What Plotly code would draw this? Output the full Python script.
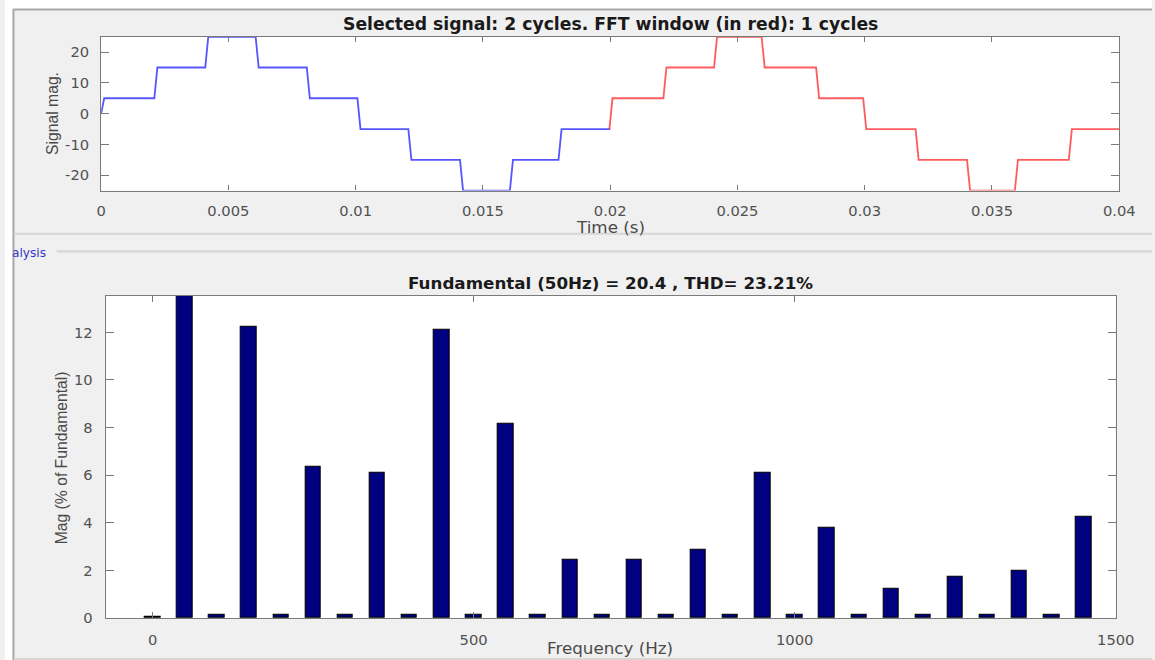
import plotly.graph_objects as go

# reference geometry (all positions below are given in reference pixels)
W, H = 1155, 660
K = 1171 / 1155  # compensation for the viewer's down-scaling of the page
FIG_W, FIG_H = round(W * K), round(H * K)

# ---------------- data ----------------
step_levels = [5, 15, 25, 15, 5, -5, -15, -25, -15, -5]
blue_switch_t = [0.0, 0.00209, 0.00409, 0.00607, 0.00808, 0.01007, 0.01207, 0.0141, 0.01606, 0.01797]
blue_start_level = 0
blue_end_t = 0.02
red_switch_t = [0.01997, 0.02209, 0.02408, 0.02595, 0.02809, 0.02994, 0.032, 0.03402, 0.0359, 0.03802]
red_start_level = -5
red_end_t = 0.04
rise_time = 0.00012

time_ticks = [0, 0.005, 0.01, 0.015, 0.02, 0.025, 0.03, 0.035, 0.04]
time_tick_labels = ["0", "0.005", "0.01", "0.015", "0.02", "0.025", "0.03", "0.035", "0.04"]
sig_ticks = [-20, -10, 0, 10, 20]
sig_tick_labels = ["-20", "-10", "0", "10", "20"]

harmonic_freqs = [0, 50, 100, 150, 200, 250, 300, 350, 400, 450, 500, 550, 600, 650, 700,
                  750, 800, 850, 900, 950, 1000, 1050, 1100, 1150, 1200, 1250, 1300, 1350, 1400, 1450]
harmonic_mags = [0.07, 100.0, 0.15, 12.25, 0.15, 6.36, 0.15, 6.11, 0.15, 12.1, 0.15, 8.17, 0.15, 2.44, 0.15,
                 2.44, 0.15, 2.88, 0.15, 6.12, 0.15, 3.77, 0.15, 1.22, 0.15, 1.75, 0.15, 2.0, 0.15, 4.24]
freq_ticks = [0, 500, 1000, 1500]
freq_tick_labels = ["0", "500", "1000", "1500"]
mag_ticks = [0, 2, 4, 6, 8, 10, 12]
mag_tick_labels = ["0", "2", "4", "6", "8", "10", "12"]

title_top = "Selected signal: 2 cycles. FFT window (in red): 1 cycles"
title_bottom = "Fundamental (50Hz) = 20.4 , THD= 23.21%"


def staircase(start_level, switch_t, levels, end_t):
    xs, ys = [switch_t[0]], [start_level]
    prev = start_level
    for t, lv in zip(switch_t, levels):
        xs += [t, t + rise_time]
        ys += [prev, lv]
        prev = lv
    xs.append(end_t)
    ys.append(prev)
    return xs, ys


bx, by = staircase(blue_start_level, blue_switch_t, step_levels, blue_end_t)
rx, ry = staircase(red_start_level, red_switch_t, step_levels, red_end_t)


def px(x):
    return x / W


def py(y):
    return 1 - y / H


def s(v):
    return v * K


fig = go.Figure()
fig.add_trace(go.Scatter(x=bx, y=by, mode="lines", line=dict(color="rgba(30,30,255,0.75)", width=s(1.8)),
                         xaxis="x", yaxis="y", showlegend=False))
fig.add_trace(go.Scatter(x=rx, y=ry, mode="lines", line=dict(color="rgba(255,30,30,0.72)", width=s(1.8)),
                         xaxis="x", yaxis="y", showlegend=False))
fig.add_trace(go.Bar(x=harmonic_freqs, y=harmonic_mags, width=24,
                     marker=dict(color="#000080", line=dict(color="#000000", width=s(1))),
                     xaxis="x2", yaxis="y2", showlegend=False))

axis_col = "#7a7a7a"
tick_font = dict(family="DejaVu Sans", size=s(14.5), color="#505050")
common = dict(showline=True, linecolor=axis_col, linewidth=s(1.2), mirror="ticks", ticks="inside",
              tickcolor=axis_col, tickwidth=s(1), showgrid=False, zeroline=False, tickfont=tick_font,
              fixedrange=True)

fig.update_layout(
    width=FIG_W, height=FIG_H, margin=dict(l=0, r=0, t=0, b=0), autosize=False,
    paper_bgcolor="#F0F0F0", plot_bgcolor="#FFFFFF",
    bargap=0,
    xaxis=dict(domain=[px(96.8), px(1122)], range=[0, 0.04], anchor="y",
               tickvals=time_ticks, ticktext=time_tick_labels, ticklen=s(5), ticklabelstandoff=round(s(7)),
               **common),
    yaxis=dict(domain=[py(190.3), py(36.7)], range=[-25, 25], anchor="x",
               tickvals=sig_ticks, ticktext=sig_tick_labels, ticklen=s(8), ticklabelstandoff=round(s(8)),
               **common),
    xaxis2=dict(domain=[px(101.4), px(1118.5)], range=[-73, 1500], anchor="y2",
                tickvals=freq_ticks, ticktext=freq_tick_labels, ticklen=s(6), ticklabelstandoff=round(s(8)),
                **common),
    yaxis2=dict(domain=[py(617), py(295.3)], range=[0, 13.54], anchor="x2",
                tickvals=mag_ticks, ticktext=mag_tick_labels, ticklen=s(8), ticklabelstandoff=round(s(9)),
                **common),
)

title_font = dict(family="DejaVu Sans", size=s(17.0), color="#1a1a1a", weight="bold")
title_font2 = dict(family="DejaVu Sans", size=s(16.5), color="#1a1a1a", weight="bold")
label_font = dict(family="DejaVu Sans", size=s(16.5), color="#4a4a4a")
vlabel_font = dict(family="Liberation Sans", size=s(15.5), color="#4a4a4a")

annots = [
    dict(text=title_top, x=px(609.7), y=py(23.5), font=title_font),
    dict(text=title_bottom, x=px(610), y=py(283), font=title_font2),
    dict(text="Time (s)", x=px(610), y=py(227), font=label_font),
    dict(text="Frequency (Hz)", x=px(609.7), y=py(647), font=label_font),
    dict(text="Signal mag.", x=px(47.8), y=py(113.3), font=vlabel_font, textangle=-90),
    dict(text="Mag (% of Fundamental)", x=px(56.5), y=py(457.5), font=vlabel_font, textangle=-90),
]
for a in annots:
    fig.add_annotation(xref="paper", yref="paper", showarrow=False, xanchor="center", yanchor="middle", **a)
fig.add_annotation(xref="paper", yref="paper", showarrow=False, xanchor="right", yanchor="middle",
                   text="alysis", x=px(43), y=py(253),
                   font=dict(family="DejaVu Sans", size=s(12), color="#3838c8"))

shapes = [
    dict(type="rect", x0=0, x1=px(8), y0=0, y1=1, fillcolor="#FFFFFF", line=dict(width=0)),
    dict(type="rect", x0=0, x1=1, y0=py(9), y1=1, fillcolor="#FFFFFF", line=dict(width=0)),
    dict(type="line", x0=px(8.5), x1=px(8.5), y0=0, y1=py(9), line=dict(color="#a8a8a8", width=s(2))),
    dict(type="line", x0=px(8), x1=1, y0=py(9.5), y1=py(9.5), line=dict(color="#a8a8a8", width=s(2))),
    dict(type="line", x0=px(9), x1=1, y0=py(233.5), y1=py(233.5), line=dict(color="#d6d6d6", width=s(2))),
    dict(type="line", x0=px(52), x1=1, y0=py(251), y1=py(251), line=dict(color="#d6d6d6", width=s(2))),
    dict(type="line", x0=px(9), x1=1, y0=py(658), y1=py(658), line=dict(color="#d6d6d6", width=s(2))),
]
for sh in shapes:
    fig.add_shape(xref="paper", yref="paper", layer="above", **sh)

fig.write_html("out.html")
